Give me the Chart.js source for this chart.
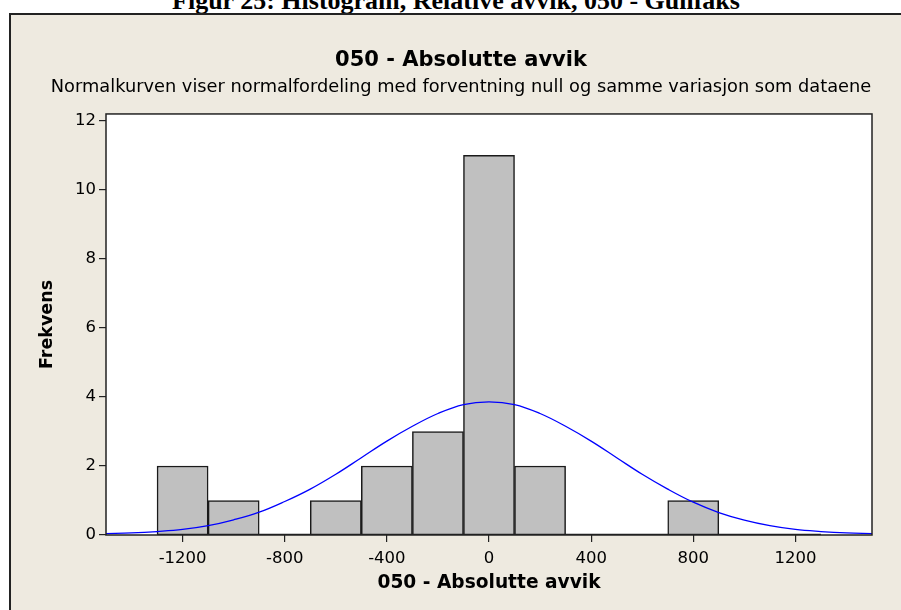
<!DOCTYPE html>
<html><head><meta charset="utf-8">
<script src="https://cdn.jsdelivr.net/npm/chart.js@4/dist/chart.umd.min.js"></script>
<style>
html,body{margin:0;padding:0;background:#fff;width:901px;height:610px;overflow:hidden;position:relative}
#fig{position:absolute;left:0;top:-12px;width:912px;text-align:center;font:bold 26px "Liberation Serif",serif;line-height:26px;color:#000;white-space:nowrap}
#panel{position:absolute;left:9px;top:13px;width:900px;height:610px;background:#EEEAE0;border-left:2px solid #222;border-top:2px solid #222}
#c{position:absolute;left:0;top:0}
</style></head><body>
<div id="fig">Figur 25: Histogram, Relative avvik, 050 - Gullfaks</div>
<div id="panel"></div>
<canvas id="c" width="901" height="610"></canvas>
<script>
const chartTitle = "050 - Absolutte avvik";
const chartSubtitle = "Normalkurven viser normalfordeling med forventning null og samme variasjon som dataene";
const xAxisTitle = "050 - Absolutte avvik";
const yAxisTitle = "Frekvens";
const binCenters = [-1200,-1000,-800,-600,-400,-200,0,200,400,600,800,1000,1200];
const frequencies = [2,1,0,1,2,3,11,2,0,0,1,0,0];
const binWidth = 200;
const curveX = [-1500,-1400,-1300,-1200,-1100,-1000,-900,-800,-700,-600,-500,-400,-300,-200,-100,0,100,200,300,400,500,600,700,800,900,1000,1100,1200,1300,1400,1500];
const curveY = [0.04,0.06,0.10,0.16,0.27,0.44,0.66,0.97,1.33,1.76,2.24,2.72,3.15,3.52,3.78,3.86,3.78,3.52,3.15,2.72,2.24,1.76,1.33,0.95,0.65,0.43,0.27,0.16,0.10,0.06,0.04];
const xTickValues = [-1200,-800,-400,0,400,800,1200];
const yTickValues = [0,2,4,6,8,10,12];
const xMin = -1500, xMax = 1500, yMin = 0, yMax = 12.2;

const barData = binCenters.map((c,i)=>({x:c,y:frequencies[i]}));
const curveData = curveX.map((x,i)=>({x:x,y:curveY[i]}));
const baseData = [{x:binCenters[0]-binWidth/2,y:0},{x:binCenters[binCenters.length-1]+binWidth/2,y:0}];

const frame = {
  id:'frame',
  beforeDraw(chart){
    const a=chart.chartArea, ctx=chart.ctx;
    ctx.save(); ctx.fillStyle='#fff'; ctx.fillRect(a.left,a.top,a.right-a.left,a.bottom-a.top); ctx.restore();
  },
  afterDatasetsDraw(chart){
    const a=chart.chartArea, ctx=chart.ctx;
    ctx.save(); ctx.strokeStyle='#222'; ctx.lineWidth=1.5;
    ctx.strokeRect(a.left,a.top,a.right-a.left,a.bottom-a.top); ctx.restore();
  }
};

const fam = '"DejaVu Sans", sans-serif';
const tickFont = {family:fam, size:16.5};
new Chart(document.getElementById('c'), {
  data:{datasets:[
    {type:'line', data:curveData, borderColor:'#0000FF', borderWidth:1.3, pointRadius:0, tension:0.4, order:0},
    {type:'line', data:baseData, borderColor:'#222', borderWidth:2.5, pointRadius:0, order:1},
    {type:'bar', data:barData, backgroundColor:'#C0C0C0', borderColor:'#1a1a1a', borderWidth:1.5, barPercentage:1, categoryPercentage:1, order:2}
  ]},
  options:{
    responsive:false, animation:false,
    layout:{padding:{left:50,right:29,top:0,bottom:0}},
    plugins:{
      legend:{display:false}, tooltip:{enabled:false},
      title:{display:true, text:chartTitle, color:'#000', font:{family:fam, size:21, weight:'bold', lineHeight:1.2}, padding:{top:48,bottom:0}},
      subtitle:{display:true, text:chartSubtitle, color:'#000', font:{family:fam, size:17.8, lineHeight:1.2}, padding:{top:3.1,bottom:16.3}}
    },
    scales:{
      x:{type:'linear', min:xMin, max:xMax, offset:false,
        afterFit(s){ s.height = 75; },
        afterBuildTicks(s){ s.ticks = xTickValues.map(v=>({value:v})); },
        border:{display:false},
        grid:{offset:false, drawOnChartArea:false, drawTicks:true, tickLength:7, color:'#222', lineWidth:1.2},
        ticks:{color:'#000', font:tickFont, padding:7, maxRotation:0, callback:v=>String(v)},
        title:{display:true, text:xAxisTitle, color:'#000', font:{family:fam, size:18.6, weight:'bold', lineHeight:1.2}, padding:{top:0,bottom:15.3}}
      },
      y:{type:'linear', min:yMin, max:yMax,
        afterFit(s){ s.width = 56; },
        afterBuildTicks(s){ s.ticks = yTickValues.map(v=>({value:v})); },
        border:{display:false},
        grid:{drawOnChartArea:false, drawTicks:true, tickLength:7, color:'#222', lineWidth:1.2},
        ticks:{color:'#000', font:tickFont, padding:3, callback:v=>String(v)},
        title:{display:true, text:yAxisTitle, color:'#000', font:{family:fam, size:17.5, weight:'bold', lineHeight:1.2}, padding:{top:-13.5,bottom:0}}
      }
    }
  },
  plugins:[frame]
});
</script>
</body></html>
